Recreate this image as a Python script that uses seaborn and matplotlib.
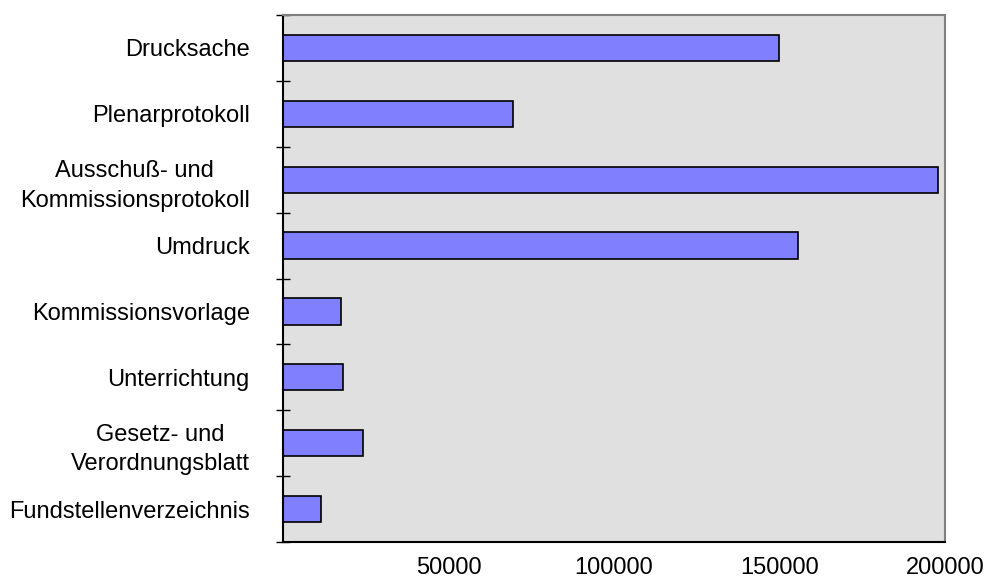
import numpy as np
import pandas as pd
import seaborn as sns
from matplotlib import pyplot as plt

sns.set_style("white")
plt.rcParams['font.family'] = ['Liberation Sans', 'DejaVu Sans']
plt.rcParams['text.color'] = 'black'

categories = ["Drucksache", "Plenarprotokoll", "Ausschuß- und\nKommissionsprotokoll",
              "Umdruck", "Kommissionsvorlage", "Unterrichtung",
              "Gesetz- und\nVerordnungsblatt", "Fundstellenverzeichnis"]
counts = [150000, 69400, 197800, 155700, 17500, 18100, 24100, 11400]
xticks = [0, 50000, 100000, 150000, 200000]
xticklabels = ["", "50000", "100000", "150000", "200000"]

df = pd.DataFrame({"Typ": categories, "Anzahl": counts})

fig = plt.figure(figsize=(9.95, 5.81), dpi=100)
ax = fig.add_axes([0.2844, 0.0671, 0.6653, 0.9071])
ax.set_facecolor("#e0e0e0")

sns.barplot(data=df, y="Typ", x="Anzahl", orient="h", color="#8080ff",
            saturation=1, edgecolor="black", linewidth=1.2, width=0.4, ax=ax)

ax.set_xlim(0, 200000)
ax.set_ylim(len(categories) - 0.5, -0.5)
ax.set_xlabel("")
ax.set_ylabel("")
ax.grid(False)

ax.set_xticks(xticks)
ax.set_xticklabels(xticklabels)
ax.tick_params(axis="x", direction="inout", length=9, width=1, color="black",
               labelcolor="black", pad=6, labelsize=17)

# category labels without ticks, boundary ticks as minor ticks
ax.set_yticks(range(len(categories)))
ax.set_yticklabels(categories, multialignment="center", linespacing=1.45)
ax.tick_params(axis="y", which="major", length=0, pad=24, labelsize=17,
               labelcolor="black")
ax.set_yticks(np.arange(-0.5, len(categories)), minor=True)
ax.tick_params(axis="y", which="minor", direction="inout", length=9.5, width=1,
               color="black", left=True)

for side in ["left", "bottom"]:
    ax.spines[side].set_color("black")
    ax.spines[side].set_linewidth(1.5)
for side in ["top", "right"]:
    ax.spines[side].set_color("#808080")
    ax.spines[side].set_linewidth(1.5)

plt.savefig("out.png", dpi=100)
